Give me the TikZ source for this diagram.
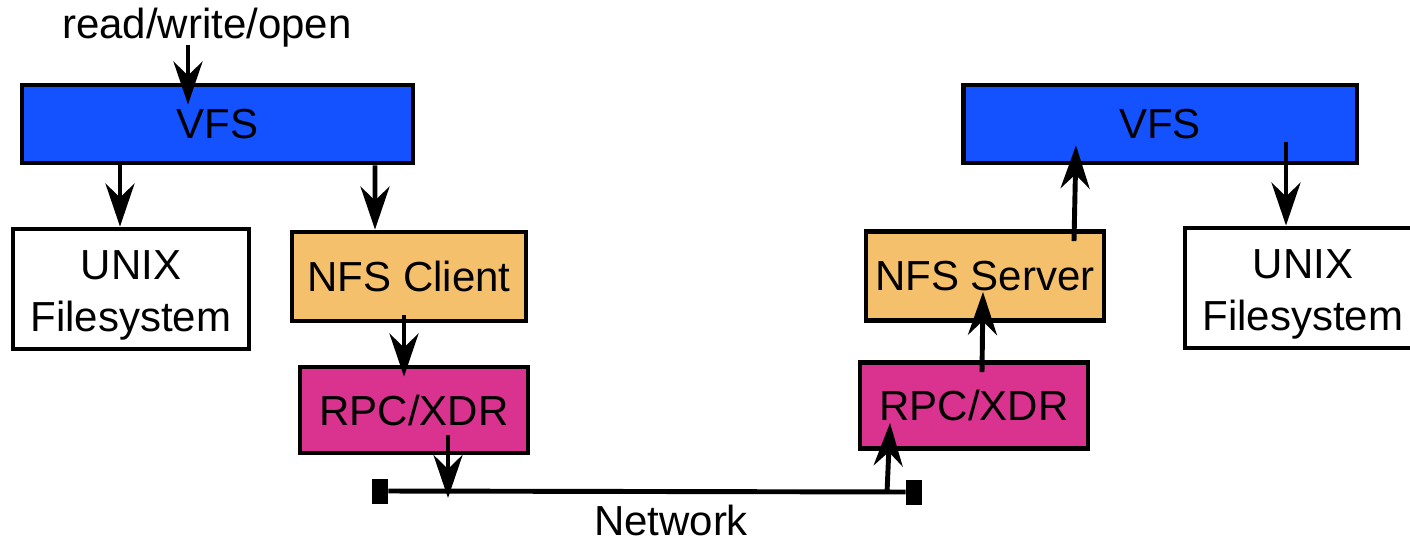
\documentclass[tikz,border=0pt]{standalone}
\usepackage{fontspec}
\setmainfont{Liberation Sans}
\usetikzlibrary{calc,arrows.meta}
\definecolor{vfsblue}{RGB}{20,82,255}
\definecolor{nfsorange}{RGB}{245,192,107}
\definecolor{rpcpink}{RGB}{217,51,143}
\tikzset{
	layer/.style={draw=black, line width=2.8pt, inner sep=0pt, align=center,
		font=\fontsize{23.9}{29.6}\selectfont},
	vfsbox/.style={layer, fill=vfsblue, minimum width=7.82cm, minimum height=1.56cm},
	fsbox/.style={layer, fill=white, minimum width=4.72cm, minimum height=2.4cm},
	nfsbox/.style={layer, fill=nfsorange, minimum height=1.78cm},
	rpcbox/.style={layer, fill=rpcpink, minimum width=4.56cm, minimum height=1.72cm},
	plain/.style={inner sep=0pt, font=\fontsize{23.9}{29.6}\selectfont},
	endcap/.style={fill=black, inner sep=0pt, minimum width=0.32cm, minimum height=0.5cm},
	arr/.style={line width=2.8pt, -{Stealth[length=0.86cm, width=0.58cm, inset=0.28cm]}}
}

\begin{document}
\begin{tikzpicture}[x=0.02cm, y=-0.02cm]
		%%%%% START %%%%%
		\useasboundingbox (0, 0) rectangle (1410, 544);
		
		% client side
		\node[plain] (rwo) at (207, 28) {read/write/open};
		\node[vfsbox] (vfsL) at (217.5, 124) {VFS};
		\node[fsbox] (unixL) at (131, 289) {\rule{0pt}{24pt}UNIX\\Filesystem};
		\node[nfsbox, minimum width=4.68cm] (nfsC) at (409, 276.5) {NFS Client};
		\node[rpcbox] (rpcL) at (414, 410) {RPC/XDR};
		
		% server side
		\node[vfsbox, minimum width=7.88cm] (vfsR) at (1160, 124) {VFS};
		\node[fsbox] (unixR) at (1303, 288) {\rule{0pt}{24pt}UNIX\\Filesystem};
		\node[nfsbox, minimum width=4.76cm] (nfsS) at (985, 276) {NFS Server};
		\node[rpcbox] (rpcR) at (974, 405.5) {RPC/XDR};
		
		% network
		\node[endcap] (netL) at (380, 491) {};
		\node[endcap] (netR) at (914, 492) {};
		\draw[line width=2.8pt] (netL) -- (netR);
		\node[plain] (net) at (671, 520) {Network};
		
		\draw[arr] ($(rwo.south)+(-19, -3)$) -- ($(vfsL.north)+(-29.5, 22)$);
		\draw[arr] ($(vfsL.south)+(-97.5, 0)$) -- ($(unixL.north)+(-11, 0)$);
		\draw[arr] ($(vfsL.south)+(157.5, 0)$) -- ($(nfsC.north)+(-34, 0)$);
		\draw[arr] ($(nfsC.south)+(-5, -8)$) -- ($(rpcL.north)+(-10, 12)$);
		\draw[arr] ($(rpcL.south)+(34, -20)$) -- ($(netL)+(68, 7)$);
		
		\draw[arr] ($(netR)+(-27, 1)$) -- ($(rpcR.south)+(-84, -28)$);
		\draw[arr] ($(rpcR.north)+(8, 12)$) -- ($(nfsS.south)+(-2, -31)$);
		\draw[arr] ($(nfsS.north)+(89, 12)$) -- ($(vfsR.south)+(-84, -20)$);
		\draw[arr] ($(vfsR.south)+(126, -23)$) -- ($(unixR.north)+(-17, 0)$);
		%%%%% END %%%%%
\end{tikzpicture}
\end{document}
